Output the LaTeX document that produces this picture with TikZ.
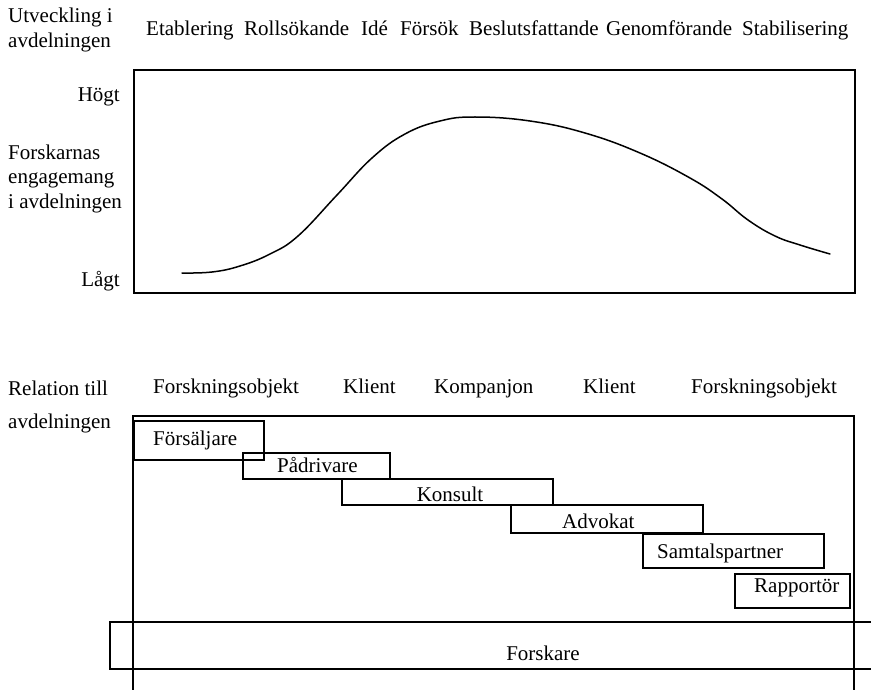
\documentclass[tikz,border=0pt]{standalone}
\usepackage{fontspec}
\setmainfont{Liberation Serif}
\begin{document}
\begin{tikzpicture}[x=1pt,y=-1pt,
  txt/.style={inner sep=0pt, font=\fontsize{21}{25}\selectfont},
  box/.style={draw=black, line width=1.6pt, rectangle, inner sep=0pt},
  frame/.style={draw=black, line width=1.6pt}]
\useasboundingbox (0,0) rectangle (871,690);
% ---------- upper part ----------
\node[txt, anchor=base west] (ut1) at (8,23) {Utveckling i};
\node[txt, anchor=base west] (ut2) at (8,48) {avdelningen};
\node[txt, anchor=base west] (p1) at (146,36) {Etablering};
\node[txt, anchor=base west] (p2) at (244,36) {Rollsökande};
\node[txt, anchor=base west] (p3) at (361,36) {Idé};
\node[txt, anchor=base west] (p4) at (400,36) {Försök};
\node[txt, anchor=base west] (p5) at (469,36) {Beslutsfattande};
\node[txt, anchor=base west] (p6) at (606,36) {Genomförande};
\node[txt, anchor=base west] (p7) at (742,36) {Stabilisering};

\node[box, minimum width=721pt, minimum height=223pt, anchor=north west] (top) at (133,69) {};
\node[txt, anchor=base east] (hog) at (120,102) {Högt};
\node[txt, anchor=base west] (f1) at (8,160) {Forskarnas};
\node[txt, anchor=base west] (f2) at (8,184) {engagemang};
\node[txt, anchor=base west] (f3) at (8,208) {i avdelningen};
\node[txt, anchor=base east] (lag) at (120,287) {Lågt};

\draw[line width=1.5pt, line cap=round] plot[smooth, tension=0.7] coordinates {
 (182,273) (212,272) (240,266) (270,254) (298,236) (337,195)
 (372,158) (405,134) (440,121) (475,117) (530,121) (585,133) (640,153)
 (690,178) (722,199) (748,220) (775,236) (800,245) (830,254)};

% ---------- lower part ----------
\node[txt, anchor=base west] (r1) at (8,395) {Relation till};
\node[txt, anchor=base west] (r2) at (8,428) {avdelningen};
\node[txt, anchor=base west] (h1) at (153,393) {Forskningsobjekt};
\node[txt, anchor=base west] (h2) at (343,393) {Klient};
\node[txt, anchor=base west] (h3) at (434,393) {Kompanjon};
\node[txt, anchor=base west] (h4) at (583,393) {Klient};
\node[txt, anchor=base west] (h5) at (691,393) {Forskningsobjekt};

\coordinate (bl) at (133,700);
\coordinate (br) at (854,700);
\node[inner sep=0pt, minimum size=0pt] (tl) at (133,416) {};
\node[inner sep=0pt, minimum size=0pt] (tr) at (854,416) {};
\draw[frame] (bl) -- (tl.center) -- (tr.center) -- (br);

\node[box, minimum width=130pt, minimum height=39pt, anchor=north west] (b1) at (133,420) {};
\node[txt, anchor=base west] (t1) at (153,445) {Försäljare};
\node[box, minimum width=147pt, minimum height=26pt, anchor=north west] (b2) at (242,452) {};
\node[txt, anchor=base west] (t2) at (277,472) {Pådrivare};
\node[box, minimum width=211pt, minimum height=26pt, anchor=north west] (b3) at (341,478) {};
\node[txt, anchor=base] (t3) at (450,501) {Konsult};
\node[box, minimum width=192pt, minimum height=28pt, anchor=north west] (b4) at (510,504) {};
\node[txt, anchor=base west] (t4) at (562,528) {Advokat};
\node[box, minimum width=181pt, minimum height=34pt, anchor=north west] (b5) at (642,533) {};
\node[txt, anchor=base west] (t5) at (657,558) {Samtalspartner};
\node[box, minimum width=115pt, minimum height=34pt, anchor=north west] (b6) at (734,573) {};
\node[txt, anchor=base west] (t6) at (754,592) {Rapportör};

\node[box, minimum width=800pt, minimum height=47pt, anchor=north west] (b7) at (109,621) {};
\node[txt, anchor=base] (t7) at (543,660) {Forskare};
\end{tikzpicture}
\end{document}
